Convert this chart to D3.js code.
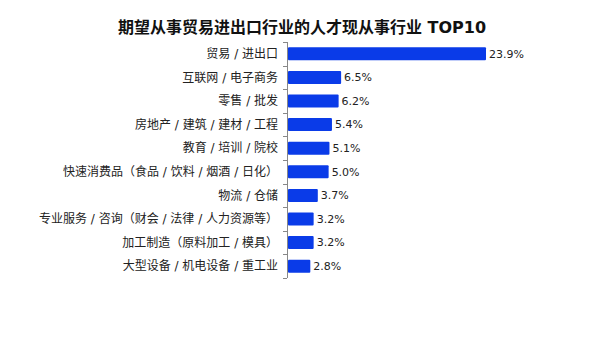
<!DOCTYPE html>
<html>
<head>
<meta charset="UTF-8">
<style>
  body { margin: 0; background: #fff; }
  svg { display: block; font-family: "DejaVu Sans", "Noto Sans CJK SC", sans-serif; }
</style>
</head>
<body>
<svg id="chart" width="605" height="340"></svg>
<script src="https://cdn.jsdelivr.net/npm/d3@7"></script>
<script>
var categories = ["贸易 / 进出口", "互联网 / 电子商务", "零售 / 批发", "房地产 / 建筑 / 建材 / 工程",
  "教育 / 培训 / 院校", "快速消费品（食品 / 饮料 / 烟酒 / 日化）", "物流 / 仓储",
  "专业服务 / 咨询（财会 / 法律 / 人力资源等）", "加工制造（原料加工 / 模具）", "大型设备 / 机电设备 / 重工业"];
var values = [23.9, 6.5, 6.2, 5.4, 5.1, 5.0, 3.7, 3.2, 3.2, 2.8];
var title = "期望从事贸易进出口行业的人才现从事行业 TOP10";

var svg = d3.select("#chart");
var axisX = 287, plotTop = 42, plotBottom = 278;

var x = d3.scaleLinear().domain([0, 23.9]).range([axisX, 486]);
var y = d3.scaleBand().domain(categories).range([plotTop, plotBottom]).paddingInner(0.45).paddingOuter(0.225);

svg.append("text")
  .attr("x", 302).attr("y", 33)
  .attr("text-anchor", "middle")
  .attr("font-size", 16).attr("font-weight", "bold")
  .attr("fill", "#111")
  .text(title);

// axis line and ticks at band boundaries
var step = (plotBottom - plotTop) / categories.length;
svg.append("line")
  .attr("x1", axisX + 0.5).attr("x2", axisX + 0.5)
  .attr("y1", plotTop).attr("y2", plotBottom)
  .attr("stroke", "#888");
d3.range(categories.length + 1).forEach(function (i) {
  var yy = Math.round(plotTop + i * step) + 0.5;
  svg.append("line")
    .attr("x1", axisX - 4).attr("x2", axisX)
    .attr("y1", yy).attr("y2", yy)
    .attr("stroke", "#888");
});

svg.selectAll("rect.bar").data(values).enter()
  .append("rect")
  .attr("class", "bar")
  .attr("x", axisX + 1)
  .attr("y", function (d, i) { return y(categories[i]); })
  .attr("width", function (d) { return x(d) - axisX - 1; })
  .attr("height", y.bandwidth())
  .attr("rx", 1)
  .attr("fill", "#0a3be8");

svg.selectAll("text.val").data(values).enter()
  .append("text")
  .attr("class", "val")
  .attr("x", function (d) { return x(d) + 3; })
  .attr("y", function (d, i) { return y(categories[i]) + y.bandwidth() / 2; })
  .attr("dy", "0.35em")
  .attr("font-size", 11)
  .attr("fill", "#222")
  .text(function (d) { return d.toFixed(1) + "%"; });

svg.selectAll("text.cat").data(categories).enter()
  .append("text")
  .attr("class", "cat")
  .attr("x", 278)
  .attr("y", function (d) { return y(d) + y.bandwidth() / 2; })
  .attr("dy", "0.35em")
  .attr("text-anchor", "end")
  .attr("font-size", 12)
  .attr("fill", "#222")
  .text(function (d) { return d; });
</script>
</body>
</html>
